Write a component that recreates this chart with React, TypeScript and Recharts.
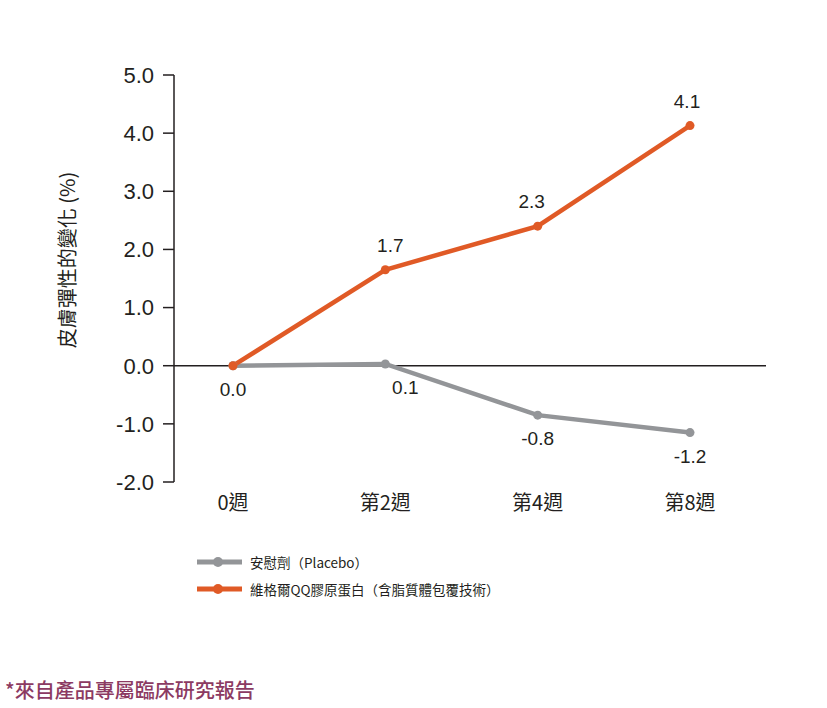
import { LabelList, Line, LineChart, ReferenceLine, XAxis, YAxis } from 'recharts';

const weeks = ['0週', '第2週', '第4週', '第8週'];
const placebo = [0, 0.03, -0.85, -1.15];
const collagen = [0, 1.65, 2.4, 4.13];
const placeboLabels = ['0.0', '0.1', '-0.8', '-1.2'];
const collagenLabels = ['', '1.7', '2.3', '4.1'];
const yTicks = [-2, -1, 0, 1, 2, 3, 4, 5];

const seriesNames = ['安慰劑（Placebo）', '維格爾QQ膠原蛋白（含脂質體包覆技術）'];
const colors = { placebo: '#939598', collagen: '#e05a26', text: '#231f20', note: '#8c3a62' };

const data = weeks.map((week, i) => ({
    week,
    placebo: placebo[i],
    collagen: collagen[i],
}));

const numFont = '"Liberation Sans", Arial, sans-serif';
const cjkFont = '"Noto Sans CJK TC", "Liberation Sans", sans-serif';

const PlaceboLabel = (props: any) => {
    const { x, y, index } = props;
    const dx = index === 1 ? 20 : 0;
    return (
        <text x={x + dx} y={y + 30} textAnchor="middle" fontSize={19} fontFamily={numFont} fill={colors.text}>
            {placeboLabels[index]}
        </text>
    );
};

const CollagenLabel = (props: any) => {
    const { x, y, index } = props;
    if (!collagenLabels[index]) return null;
    const dx = index === 1 ? 5 : index === 2 ? -6 : -3;
    return (
        <text x={x + dx} y={y - 18} textAnchor="middle" fontSize={19} fontFamily={numFont} fill={colors.text}>
            {collagenLabels[index]}
        </text>
    );
};

const ChartLegend = () => (
    <div style={{ position: 'absolute', left: 196, top: 548, fontFamily: cjkFont, fontSize: 13.5, color: colors.text }}>
        {[colors.placebo, colors.collagen].map((c, i) => (
            <div key={i} style={{ display: 'flex', alignItems: 'center', height: 27 }}>
                <svg width={54} height={12}>
                    <line x1={1} y1={6} x2={46} y2={6} stroke={c} strokeWidth={5} />
                    <circle cx={22} cy={6} r={5} fill={c} />
                </svg>
                <span>{seriesNames[i]}</span>
            </div>
        ))}
    </div>
);

const YLabel = () => (
    <text
        x={75}
        y={260}
        transform="rotate(-90 75 260)"
        textAnchor="middle"
        fontSize={20}
        fontFamily={cjkFont}
        fill={colors.text}
    >
        皮膚彈性的變化 (%)
    </text>
);

export default function App() {
    return (
        <div style={{ position: 'absolute', left: 0, top: 0, width: 827, height: 708, background: '#fff' }}>
            <LineChart width={827} height={708} data={data} margin={{ top: 75, right: 61, bottom: 0, left: 0 }}>
                <XAxis
                    dataKey="week"
                    axisLine={false}
                    tickLine={false}
                    padding={{ left: 59, right: 76 }}
                    height={226}
                    tickMargin={8}
                    tick={{ fontSize: 20, fontFamily: cjkFont, fill: colors.text }}
                />
                <YAxis
                    domain={[-2, 5]}
                    ticks={yTicks}
                    width={174}
                    interval={0}
                    tickFormatter={(v: number) => v.toFixed(1)}
                    stroke={colors.text}
                    tickSize={11}
                    tickMargin={9}
                    axisLine={{ stroke: colors.text, strokeWidth: 1.5 }}
                    tickLine={{ stroke: colors.text, strokeWidth: 1.5 }}
                    tick={{ fontSize: 22, fontFamily: numFont, fill: colors.text }}
                    label={<YLabel />}
                />
                <ReferenceLine y={0} stroke={colors.text} strokeWidth={1.5} />
                <Line
                    dataKey="placebo"
                    stroke={colors.placebo}
                    strokeWidth={4.5}
                    dot={{ r: 4.5, fill: colors.placebo, stroke: 'none' }}
                    isAnimationActive={false}
                >
                    <LabelList dataKey="placebo" content={<PlaceboLabel />} />
                </Line>
                <Line
                    dataKey="collagen"
                    stroke={colors.collagen}
                    strokeWidth={4.5}
                    dot={{ r: 4.5, fill: colors.collagen, stroke: 'none' }}
                    isAnimationActive={false}
                >
                    <LabelList dataKey="collagen" content={<CollagenLabel />} />
                </Line>
            </LineChart>
            <ChartLegend />
            <div
                style={{
                    position: 'absolute',
                    left: 5,
                    top: 675,
                    fontFamily: cjkFont,
                    fontSize: 20,
                    fontWeight: 500,
                    color: colors.note,
                }}
            >
                *來自產品專屬臨床研究報告
            </div>
        </div>
    );
}
